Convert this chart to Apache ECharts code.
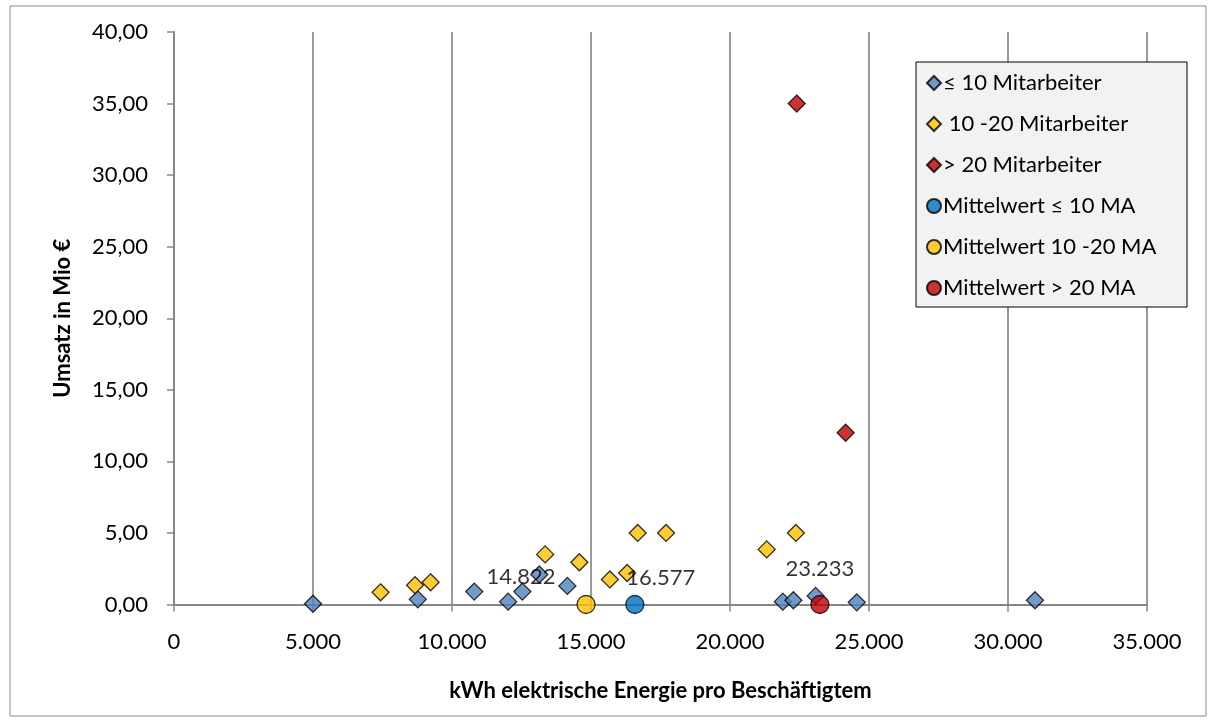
<!DOCTYPE html>
<html>
<head>
<meta charset="utf-8">
<script src="https://cdn.jsdelivr.net/npm/echarts@6/dist/echarts.min.js"></script>
<style>
html,body{margin:0;padding:0;background:#fff;}
#chart{width:1215px;height:722px;}
</style>
</head>
<body>
<div id="chart"></div>
<script>
// ---- data ----
var seriesNames = ['≤ 10 Mitarbeiter', ' 10 -20 Mitarbeiter', '> 20 Mitarbeiter', 'Mittelwert ≤ 10 MA', 'Mittelwert 10 -20 MA', 'Mittelwert > 20 MA'];
var small = [[5000,0.05],[8770,0.36],[10800,0.9],[12020,0.2],[12530,0.9],[13140,2.1],[14150,1.3],[21900,0.2],[22280,0.3],[23080,0.6],[24560,0.15],[30970,0.3]];
var medium = [[7430,0.85],[8670,1.35],[9230,1.55],[13350,3.5],[14580,2.95],[15680,1.75],[16300,2.2],[16680,5.0],[17700,5.0],[21320,3.85],[22370,5.0]];
var large = [[22400,35.0],[24160,12.0]];
var meanSmall = [[16577,0]];
var meanMedium = [[14822,0]];
var meanLarge = [[23233,0]];
var xTicks = [0,5000,10000,15000,20000,25000,30000,35000];
var yTicks = [0,5,10,15,20,25,30,35,40];

function deThousands(v){
  var s = String(Math.round(v));
  return s.replace(/\B(?=(\d{3})+(?!\d))/g, '.');
}
function deDecimal(v){
  return v.toFixed(2).replace('.', ',');
}

var chart = echarts.init(document.getElementById('chart'));
var FONT = 'Lato';
var FS = 22;
var diamondStyle = function(c){ return {color:c, borderColor:'#000', borderWidth:1.3}; };

function meanSeries(name, data, color, off){
  return {
    name:name, type:'scatter', symbol:'circle', symbolSize:18, data:data,
    itemStyle:{color:color, borderColor:'#000', borderWidth:1.3},
    label:{show:true, position:'inside', offset:off, fontFamily:FONT, fontSize:FS, color:'#000',
      formatter:function(p){ return deThousands(p.value[0]); }},
    z:4
  };
}

chart.setOption({
  animation:false,
  backgroundColor:'#fff',
  textStyle:{fontFamily:FONT},
  graphic:[
    {type:'rect', shape:{x:10,y:6,width:1196,height:710}, style:{fill:null, stroke:'#8c8c8c', lineWidth:1}, z:-10},
    {type:'rect', shape:{x:916,y:62,width:271,height:245}, style:{fill:'#f2f2f2', stroke:'#000', lineWidth:1}, z:10}
  ],
  legend:{
    show:true, orient:'vertical', left:926, top:72, z:20, padding:0,
    itemWidth:14, itemHeight:14, itemGap:19,
    textStyle:{fontFamily:FONT, fontSize:FS, color:'#000', lineHeight:20, padding:[0,0,0,-3]},
    data:seriesNames
  },
  grid:{left:174, right:68, top:32, bottom:117.5, containLabel:false},
  xAxis:{
    type:'value', min:0, max:35000, interval:5000,
    name:'kWh elektrische Energie pro Beschäftigtem', nameLocation:'middle', nameGap:75,
    nameTextStyle:{fontFamily:FONT, fontSize:FS, fontWeight:'bold', color:'#000'},
    axisLine:{show:true, onZero:false, lineStyle:{color:'#868686', width:2}},
    axisTick:{show:true, length:7, inside:false, lineStyle:{color:'#868686', width:1.5}},
    axisLabel:{margin:26, fontFamily:FONT, fontSize:FS, color:'#000',
      formatter:function(v){ return deThousands(v); }},
    splitLine:{show:true, lineStyle:{color:'#9a9a9a', width:2}}
  },
  yAxis:{
    type:'value', min:0, max:40, interval:5,
    name:'Umsatz in Mio €', nameLocation:'middle', nameGap:100, nameRotate:90,
    nameTextStyle:{fontFamily:FONT, fontSize:FS, fontWeight:'bold', color:'#000'},
    axisLine:{show:true, lineStyle:{color:'#868686', width:2}},
    axisTick:{show:true, length:7, lineStyle:{color:'#868686', width:1.5}},
    axisLabel:{margin:26, fontFamily:FONT, fontSize:FS, color:'#000',
      formatter:function(v){ return deDecimal(v); }},
    splitLine:{show:false}
  },
  series:[
    {name:seriesNames[0], type:'scatter', symbol:'diamond', symbolSize:17, data:small, itemStyle:diamondStyle('#4f81bd'), z:2},
    {name:seriesNames[1], type:'scatter', symbol:'diamond', symbolSize:17, data:medium, itemStyle:diamondStyle('#ffc000'), z:2},
    {name:seriesNames[2], type:'scatter', symbol:'diamond', symbolSize:17, data:large, itemStyle:diamondStyle('#c00000'), z:2},
    meanSeries(seriesNames[3], meanSmall, '#0070c0', [26,-27]),
    meanSeries(seriesNames[4], meanMedium, '#ffc000', [-65,-28]),
    meanSeries(seriesNames[5], meanLarge, '#c00000', [0,-36])
  ]
});
</script>
</body>
</html>
